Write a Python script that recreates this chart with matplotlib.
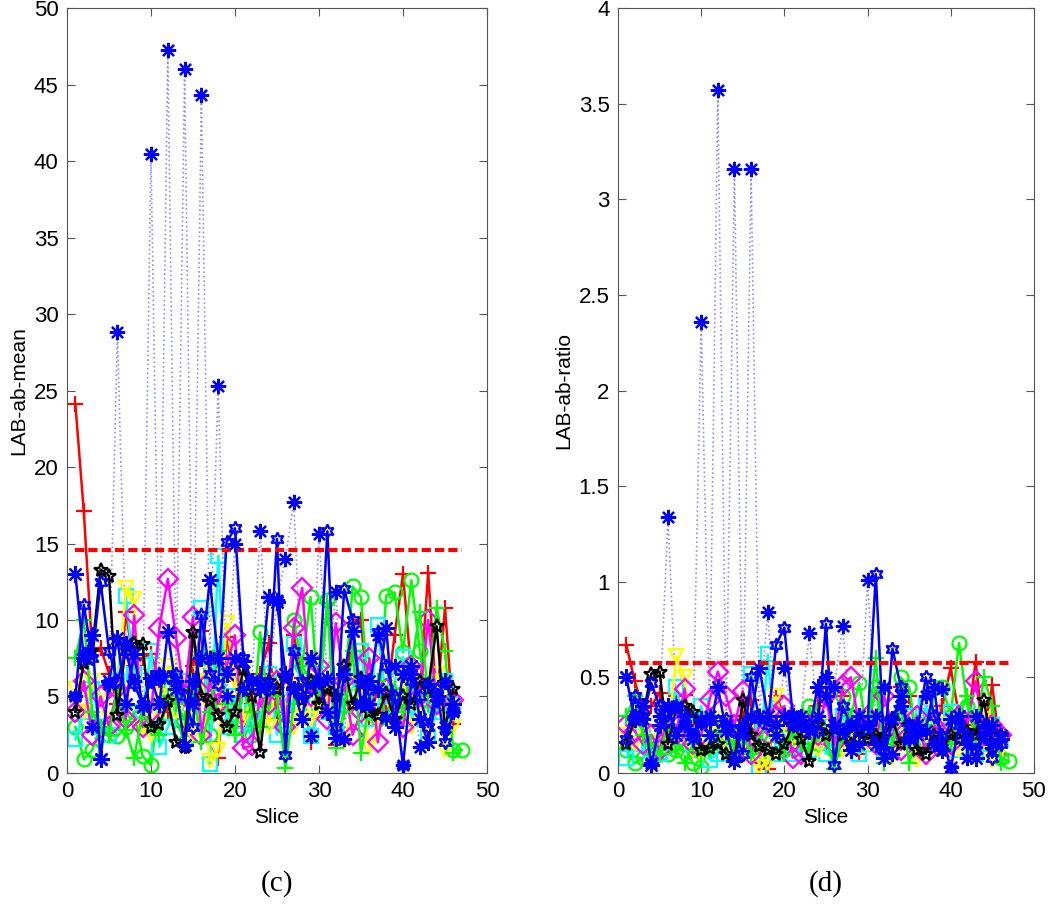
import numpy as np
import matplotlib.pyplot as plt

plt.rcParams['font.family'] = ['Liberation Sans', 'DejaVu Sans']

# (c) LAB-ab-mean, una serie por muestra
mean_bstar_dot = [5.0, 7.8, 3.0, 0.9, 5.8, 28.8, 8.5, 6.0, 4.4, 40.5,
                  6.2, 47.3, 6.0, 46.0, 4.5, 44.3, 7.5, 25.3, 5.0, 15.0,
                  5.5, 6.0, 15.8, 5.8, 11.3, 14.0, 17.7, 5.0, 2.4, 15.6,
                  6.2, 11.8, 2.2, 9.3, 6.0, 4.5, 9.0, 3.6, 7.0, 0.5,
                  6.5, 1.7, 5.8, 4.8, 3.0, 4.0]
mean_red = [24.1, 17.1, 8.0, 8.2, 6.5, 4.5, 10.5, 7.0, 7.5, 7.8,
            6.0, 4.0, 5.5, 3.0, 7.0, 9.3, 2.0, 1.0, 8.9, 6.0,
            3.0, 4.5, 6.5, 8.5, 3.5, 4.0, 9.0, 6.2, 2.0, 4.5,
            5.0, 1.8, 4.0, 9.8, 10.0, 3.5, 5.5, 4.5, 9.0, 13.0,
            6.5, 5.0, 13.1, 4.5, 10.8, 3.2]
mean_green_o = [3.0, 0.9, 1.5, 3.0, 2.5, 2.4, 3.0, 4.0, 1.1, 0.5,
                4.5, 6.5, 3.5, 2.0, 4.0, 6.0, 2.5, 5.0, 4.5, 3.0,
                6.0, 2.5, 9.2, 4.0, 6.0, 3.0, 10.0, 7.0, 11.5, 4.5,
                11.3, 3.0, 5.0, 12.2, 11.5, 4.0, 3.5, 11.6, 11.8, 7.9,
                12.6, 8.0, 4.0, 6.0, 4.5, 1.5, 1.5]
mean_cyan = [2.2, 4.0, 5.5, 3.0, 2.5, 6.0, 11.6, 6.5, 4.0, 8.0,
             1.7, 3.0, 4.5, 6.0, 3.5, 10.8, 0.6, 14.2, 3.0, 5.0,
             2.5, 4.0, 3.5, 6.5, 2.5, 4.5, 8.4, 5.0, 2.4, 4.0,
             6.5, 3.0, 4.5, 5.5, 8.0, 3.5, 9.7, 4.5, 6.0, 7.6,
             3.5, 5.0, 2.5, 4.0, 6.0, 4.5]
mean_yellow = [5.5, 4.0, 6.0, 5.0, 3.5, 5.0, 12.1, 11.4, 3.0, 2.5,
               5.0, 7.0, 4.0, 3.5, 2.5, 6.5, 0.8, 1.5, 9.8, 6.0,
               3.5, 5.0, 5.5, 3.0, 6.0, 4.5, 3.0, 5.5, 3.5, 4.0,
               5.0, 3.0, 2.0, 4.5, 5.0, 1.7, 3.5, 5.5, 4.0, 6.0,
               3.0, 4.5, 2.5, 6.5, 1.5, 3.0]
mean_magenta = [4.0, 6.0, 2.5, 5.0, 3.0, 5.5, 3.5, 10.3, 3.0, 4.0,
                9.5, 12.7, 8.8, 5.0, 10.2, 2.5, 6.0, 4.5, 7.0, 9.0,
                1.6, 1.8, 5.0, 4.5, 6.0, 3.0, 9.5, 12.1, 5.0, 7.0,
                3.5, 9.8, 6.0, 2.5, 4.0, 7.5, 2.0, 5.5, 4.0, 3.0,
                7.0, 5.0, 10.0, 4.5, 5.0, 4.8]
mean_green_p = [7.5, 10.0, 4.0, 3.0, 2.5, 5.5, 2.8, 1.0, 4.0, 3.0,
                2.5, 5.0, 4.5, 3.5, 5.5, 2.0, 4.0, 8.0, 4.5, 2.5,
                5.5, 4.0, 3.0, 6.0, 5.0, 0.3, 4.5, 7.0, 6.0, 5.5,
                11.1, 1.6, 4.0, 8.0, 1.3, 4.5, 6.0, 3.5, 5.5, 4.0,
                7.0, 10.5, 5.0, 10.8, 8.0, 1.3]
mean_black = [4.0, 7.2, 8.0, 13.3, 12.9, 3.8, 8.3, 8.5, 8.4, 3.0,
              3.2, 4.7, 2.0, 1.7, 9.2, 5.0, 4.7, 3.8, 3.0, 4.0,
              6.8, 5.0, 1.4, 6.0, 5.5, 6.2, 5.5, 4.8, 6.0, 4.5,
              5.5, 5.0, 7.0, 4.5, 6.2, 4.0, 3.8, 5.2, 3.5, 5.0,
              4.5, 6.0, 5.5, 9.6, 2.9, 5.5]
mean_bstar = [13.0, 7.5, 9.0, 0.9, 6.0, 8.8, 4.5, 7.8, 4.3, 6.2,
              4.5, 9.2, 5.5, 1.8, 6.0, 7.5, 12.6, 7.5, 6.5, 7.5,
              7.3, 6.0, 5.5, 11.5, 11.2, 6.5, 5.5, 3.5, 7.5, 6.0,
              4.0, 2.3, 6.5, 9.3, 4.5, 6.0, 5.5, 9.5, 3.0, 6.5,
              7.0, 3.5, 2.0, 5.0, 6.0, 4.5]
mean_hex = [5.0, 11.0, 7.5, 12.5, 8.0, 6.0, 8.0, 5.8, 4.5, 6.0,
            6.5, 6.3, 6.5, 5.0, 3.0, 10.3, 6.5, 5.8, 15.1, 16.0,
            7.5, 6.0, 6.0, 5.5, 15.3, 1.2, 8.0, 6.0, 5.5, 6.0,
            15.8, 3.0, 12.0, 10.0, 4.5, 5.5, 9.2, 7.0, 5.0, 0.5,
            6.0, 5.0, 3.0, 5.5, 2.0, 4.0]
mean_thresh = 14.6

# (d) LAB-ab-ratio
ratio_bstar_dot = [0.50, 0.30, 0.28, 0.05, 0.30, 1.34, 0.35, 0.25, 0.20, 2.36,
                   0.30, 3.57, 0.25, 3.16, 0.20, 3.16, 0.30, 0.84, 0.20, 0.55,
                   0.25, 0.30, 0.73, 0.30, 0.50, 0.45, 0.77, 0.25, 0.15, 1.01,
                   0.30, 0.45, 0.10, 0.35, 0.25, 0.20, 0.40, 0.15, 0.44, 0.03,
                   0.30, 0.08, 0.30, 0.25, 0.15, 0.20]
ratio_red = [0.67, 0.48, 0.34, 0.35, 0.42, 0.25, 0.40, 0.41, 0.28, 0.30,
             0.25, 0.20, 0.25, 0.15, 0.30, 0.38, 0.05, 0.02, 0.40, 0.30,
             0.15, 0.20, 0.30, 0.35, 0.15, 0.20, 0.40, 0.28, 0.10, 0.20,
             0.25, 0.10, 0.20, 0.45, 0.40, 0.18, 0.25, 0.20, 0.35, 0.55,
             0.30, 0.25, 0.58, 0.20, 0.46, 0.10]
ratio_green_o = [0.12, 0.05, 0.08, 0.12, 0.10, 0.10, 0.12, 0.15, 0.05, 0.03,
                 0.15, 0.25, 0.15, 0.08, 0.15, 0.25, 0.10, 0.20, 0.20, 0.12,
                 0.25, 0.10, 0.35, 0.15, 0.25, 0.12, 0.40, 0.30, 0.47, 0.20,
                 0.45, 0.12, 0.20, 0.50, 0.45, 0.15, 0.15, 0.45, 0.45, 0.30,
                 0.68, 0.35, 0.18, 0.25, 0.20, 0.08, 0.06]
ratio_cyan = [0.08, 0.15, 0.20, 0.12, 0.10, 0.22, 0.45, 0.25, 0.15, 0.35,
              0.07, 0.10, 0.18, 0.20, 0.12, 0.52, 0.03, 0.62, 0.10, 0.20,
              0.10, 0.15, 0.12, 0.25, 0.10, 0.18, 0.30, 0.20, 0.10, 0.15,
              0.25, 0.12, 0.18, 0.20, 0.30, 0.12, 0.35, 0.20, 0.25, 0.32,
              0.12, 0.20, 0.10, 0.15, 0.25, 0.18]
ratio_yellow = [0.20, 0.15, 0.22, 0.20, 0.15, 0.20, 0.61, 0.50, 0.12, 0.10,
                0.20, 0.28, 0.15, 0.12, 0.10, 0.30, 0.03, 0.05, 0.40, 0.25,
                0.15, 0.20, 0.22, 0.12, 0.25, 0.18, 0.12, 0.22, 0.15, 0.15,
                0.20, 0.12, 0.08, 0.20, 0.20, 0.07, 0.15, 0.25, 0.15, 0.25,
                0.12, 0.20, 0.10, 0.28, 0.06, 0.12]
ratio_magenta = [0.25, 0.22, 0.15, 0.20, 0.12, 0.30, 0.20, 0.44, 0.15, 0.20,
                 0.38, 0.53, 0.40, 0.25, 0.43, 0.10, 0.25, 0.20, 0.30, 0.35,
                 0.08, 0.10, 0.25, 0.20, 0.40, 0.15, 0.46, 0.50, 0.25, 0.30,
                 0.15, 0.40, 0.25, 0.12, 0.20, 0.30, 0.10, 0.25, 0.20, 0.15,
                 0.30, 0.25, 0.48, 0.20, 0.25, 0.20]
ratio_green_p = [0.30, 0.40, 0.20, 0.15, 0.10, 0.25, 0.12, 0.05, 0.15, 0.10,
                 0.12, 0.22, 0.20, 0.15, 0.20, 0.10, 0.15, 0.30, 0.20, 0.10,
                 0.22, 0.15, 0.12, 0.25, 0.20, 0.02, 0.20, 0.30, 0.25, 0.20,
                 0.60, 0.05, 0.15, 0.35, 0.05, 0.20, 0.25, 0.15, 0.20, 0.15,
                 0.30, 0.40, 0.20, 0.50, 0.35, 0.05]
ratio_black = [0.15, 0.28, 0.30, 0.52, 0.53, 0.15, 0.34, 0.35, 0.32, 0.12,
               0.13, 0.15, 0.10, 0.07, 0.38, 0.20, 0.14, 0.12, 0.10, 0.15,
               0.25, 0.18, 0.06, 0.25, 0.20, 0.24, 0.20, 0.15, 0.22, 0.18,
               0.20, 0.19, 0.28, 0.15, 0.25, 0.12, 0.10, 0.20, 0.12, 0.20,
               0.18, 0.22, 0.20, 0.38, 0.12, 0.20]
ratio_bstar = [0.50, 0.28, 0.35, 0.04, 0.25, 0.35, 0.20, 0.30, 0.18, 0.28,
               0.20, 0.45, 0.22, 0.06, 0.25, 0.30, 0.55, 0.30, 0.25, 0.30,
               0.30, 0.25, 0.22, 0.45, 0.40, 0.25, 0.22, 0.12, 0.30, 0.25,
               0.15, 0.08, 0.28, 0.40, 0.18, 0.25, 0.22, 0.45, 0.12, 0.28,
               0.30, 0.15, 0.08, 0.20, 0.25, 0.18]
ratio_hex = [0.18, 0.40, 0.30, 0.47, 0.35, 0.27, 0.35, 0.25, 0.20, 0.26,
             0.28, 0.27, 0.28, 0.22, 0.10, 0.50, 0.28, 0.25, 0.67, 0.76,
             0.30, 0.25, 0.25, 0.22, 0.78, 0.04, 0.35, 0.25, 0.22, 0.25,
             1.04, 0.12, 0.65, 0.45, 0.18, 0.22, 0.50, 0.30, 0.20, 0.02,
             0.25, 0.20, 0.12, 0.22, 0.08, 0.15]
ratio_thresh = 0.575

asterisk = (8, 2, 0)
hexagram = (6, 1, 0)

# estilo de cada serie (color, marcador, linea) - colores tipo MATLAB
styles = [
    ('#0000ff', asterisk, ':'),
    ('#ff0000', '+', '-'),
    ('#00ff00', 'o', '-'),
    ('#00ffff', 's', '-'),
    ('#ffff00', 'v', '-'),
    ('#ff00ff', 'D', '-'),
    ('#00ff00', '+', '-'),
    ('#000000', '*', '-'),
    ('#0000ff', asterisk, '-'),
    ('#0000ff', hexagram, '-'),
]


def draw(ax, series, thresh, ymax, yticks, ylabel):
    for (col, mk, ls), y in zip(styles, series):
        x = np.arange(1, len(y) + 1)
        if ls == ':':
            ax.plot(x, y, ls=':', color='#8f8ff0', lw=1.2, zorder=1)
            ax.plot(x, y, ls='none', marker=mk, color=col, ms=11, mew=1.6, zorder=5)
        else:
            filled = mk in ('+', asterisk)
            ax.plot(x, y, ls=ls, color=col, lw=1.8, marker=mk, ms=12 if filled else 10,
                    mew=1.6, mfc=col if filled else 'none', zorder=2)
    ax.plot([1, 47], [thresh, thresh], color='#ff0000', ls='--', lw=3, dashes=(2.2, 1.0), zorder=3)
    ax.set_xlim(0, 50)
    ax.set_ylim(0, ymax)
    ax.set_xticks(range(0, 51, 10))
    ax.set_yticks(yticks)
    ax.set_yticklabels([('%g' % t) for t in yticks])
    ax.tick_params(direction='in', top=True, right=True, length=6, labelsize=16, color='#555555', pad=6)
    for s in ax.spines.values():
        s.set_color('#555555')
    ax.set_xlabel('Slice', fontsize=15)
    ax.set_ylabel(ylabel, fontsize=15)


fig = plt.figure(figsize=(10.5, 9.18), dpi=100)
ax1 = fig.add_axes([0.0638, 0.158, 0.4, 0.833])
ax2 = fig.add_axes([0.5886, 0.158, 0.396, 0.833])

draw(ax1, [mean_bstar_dot, mean_red, mean_green_o, mean_cyan, mean_yellow, mean_magenta,
           mean_green_p, mean_black, mean_bstar, mean_hex],
     mean_thresh, 50, list(range(0, 51, 5)), 'LAB-ab-mean')
draw(ax2, [ratio_bstar_dot, ratio_red, ratio_green_o, ratio_cyan, ratio_yellow, ratio_magenta,
           ratio_green_p, ratio_black, ratio_bstar, ratio_hex],
     ratio_thresh, 4, [0, 0.5, 1, 1.5, 2, 2.5, 3, 3.5, 4], 'LAB-ab-ratio')

fig.text(0.0638 + 0.2, 0.038, '(c)', ha='center', va='center', fontsize=21, family='Liberation Serif')
fig.text(0.5886 + 0.198, 0.038, '(d)', ha='center', va='center', fontsize=21, family='Liberation Serif')

fig.savefig('out.png', dpi=100)
